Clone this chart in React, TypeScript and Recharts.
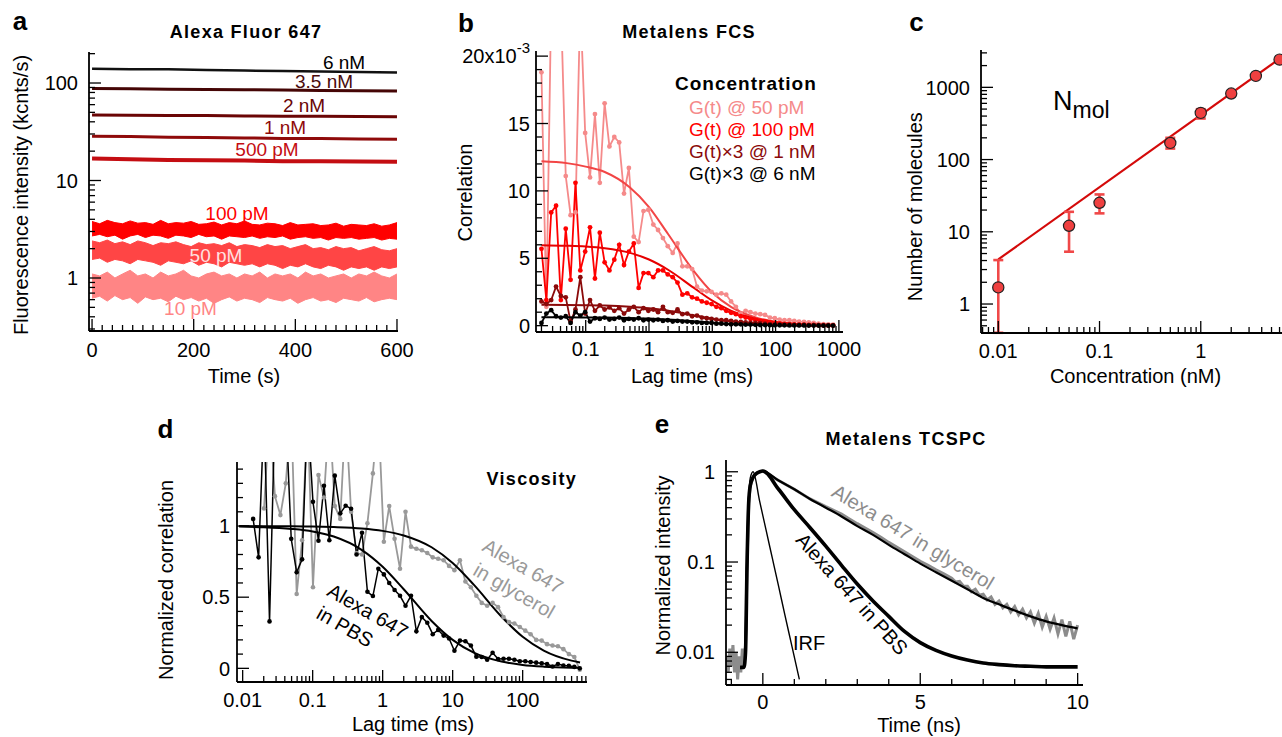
import React from 'react';
import { ComposedChart, Line, Area, Scatter, XAxis, YAxis, ErrorBar } from 'recharts';

const FONT = "'Liberation Sans', Arial, Helvetica, sans-serif";

// ---------------- Panel a : intensity traces ----------------
const tA = [0,15,30,45,60,75,90,105,120,135,150,165,180,195,210,225,240,255,270,285,300,315,330,345,360,375,390,405,420,435,450,465,480,495,510,525,540,555,570,585,600];
const hi100 = [3.8,3.6,3.9,3.7,3.6,3.85,3.65,3.7,3.55,3.9,3.6,3.7,3.65,3.8,3.55,3.6,3.75,3.5,3.7,3.6,3.85,3.55,3.5,3.65,3.6,3.45,3.7,3.5,3.55,3.6,3.45,3.5,3.65,3.4,3.55,3.5,3.45,3.6,3.4,3.5,3.7];
const lo100 = [2.7,2.8,2.65,2.75,2.5,2.7,2.8,2.6,2.75,2.7,2.55,2.75,2.7,2.6,2.8,2.65,2.7,2.5,2.7,2.65,2.6,2.7,2.55,2.65,2.6,2.7,2.5,2.6,2.65,2.55,2.6,2.45,2.6,2.55,2.6,2.5,2.55,2.6,2.45,2.55,2.5];
const hi50 = [2.4,2.3,2.45,2.25,2.35,2.2,2.4,2.3,2.15,2.3,2.25,2.35,2.2,2.1,2.3,2.2,2.25,2.15,2.3,2.1,2.2,2.15,2.05,2.2,2.1,2.15,2.0,2.1,2.2,2.0,2.05,1.95,2.1,2.0,2.05,1.9,2.0,2.1,1.95,1.9,2.0];
const lo50 = [1.55,1.6,1.45,1.55,1.5,1.4,1.55,1.5,1.45,1.35,1.5,1.45,1.4,1.5,1.35,1.45,1.4,1.3,1.45,1.4,1.35,1.4,1.3,1.4,1.35,1.25,1.35,1.3,1.4,1.3,1.25,1.35,1.3,1.2,1.3,1.25,1.3,1.2,1.3,1.25,1.3];
const hi10 = [1.1,1.05,1.15,1.0,1.1,1.2,1.05,1.1,1.0,1.15,1.05,1.1,1.2,1.05,1.0,1.1,1.15,1.05,1.1,1.0,1.1,1.05,1.15,1.0,1.1,1.05,1.1,1.0,1.15,1.05,1.1,1.0,1.05,1.1,1.0,1.1,1.05,1.15,1.05,1.0,1.1];
const lo10 = [0.62,0.65,0.58,0.66,0.6,0.63,0.55,0.64,0.6,0.62,0.57,0.65,0.6,0.63,0.58,0.62,0.55,0.6,0.64,0.58,0.62,0.6,0.56,0.63,0.6,0.58,0.62,0.55,0.6,0.63,0.58,0.6,0.56,0.62,0.6,0.58,0.63,0.57,0.6,0.62,0.6];
const tThin = [0,75,150,225,300,375,450,525,600];
const a6n = [140,138,138,136,134,133,131,130,128];
const a35n = [88,87.5,86.5,86,85.5,85,84,83.5,83];
const a2n = [47,46.8,46.4,46.3,46,45.7,45.5,45.3,45];
const a1n = [28.5,28.2,27.8,27.6,27.3,27,26.9,26.6,26.5];
const a500p = [16.8,16.5,16.2,16.1,16.0,15.8,15.8,15.7,15.6];
const aXTicks = [0,20,40,60,80,100,120,140,160,180,200,220,240,260,280,300,320,340,360,380,400,420,440,460,480,500,520,540,560,580,600];
const aXMajor = [0,200,400,600];
const aXLabels = ['0','200','400','600'];
const aYTicks = [0.3,0.4,0.5,0.6,0.7,0.8,0.9,1,2,3,4,5,6,7,8,9,10,20,30,40,50,60,70,80,90,100,200];
const aYMajor = [1,10,100];
const aYLabels = ['1','10','100'];

// ---------------- Panel b : FCS ----------------
const lagB = [0.0200,0.0239,0.0285,0.0340,0.0405,0.0484,0.0577,0.0689,0.0822,0.0981,
  0.117,0.140,0.167,0.199,0.237,0.283,0.338,0.403,0.481,0.575,
  0.686,0.818,0.977,1.17,1.39,1.66,1.98,2.37,2.82,3.37,
  4.02,4.80,5.73,6.84,8.16,9.74,11.6,13.9,16.6,19.8,
  23.6,28.2,33.6,40.1,47.9,57.1,68.2,81.4,97.1,116,
  138,165,197,235,281,335,400,477,570,680,810];
const g50 = [18.8,1.4,24,24,24,11.1,8.2,8.4,24,14.3,
  11.0,15.7,10.6,16.5,13.3,14.0,13.6,9.8,11.7,6.6,
  6.2,8.5,8.6,7.5,7.1,6.5,5.9,5.4,6.1,4.4,
  4.4,4.2,2.9,2.6,2.55,2.5,2.3,2.4,2.3,1.8,
  1.4,0.9,1.1,1.0,0.9,0.85,0.8,0.6,0.55,0.45,
  0.4,0.4,0.35,0.3,0.28,0.25,0.2,0.15,0.12,0.1,0.08];
const g100 = [5.7,1.9,8.4,8.9,1.9,7.2,3.4,10.6,4.1,5.5,
  7.3,3.5,6.9,4.7,4.1,4.9,6.0,4.5,5.5,6.1,
  2.8,3.9,3.9,3.6,4.1,4.1,3.8,3.6,3.2,2.3,
  2.4,2.1,2.0,1.8,1.7,1.6,1.4,1.3,1.1,0.95,
  0.85,0.7,0.6,0.5,0.42,0.35,0.3,0.25,0.2,0.17,
  0.14,0.12,0.1,0.08,0.07,0.05,0.05,0.04,0.03,0.02,0.02];
const g1n = [1.8,1.6,1.9,2.9,2.2,2.1,0.3,1.2,3.6,0.9,
  1.9,1.1,1.5,1.2,1.35,1.1,1.3,0.9,1.2,1.4,
  1.0,1.3,1.1,1.2,1.0,1.4,1.0,0.95,1.2,0.85,
  0.9,0.7,0.75,0.6,0.55,0.5,0.45,0.4,0.4,0.35,
  0.3,0.28,0.25,0.2,0.2,0.18,0.15,0.12,0.1,0.1,
  0.08,0.07,0.06,0.05,0.05,0.04,0.03,0.03,0.02,0.02,0.02];
const g6n = [0.2,0.9,1.15,0.7,0.6,0.7,0.2,1.0,0.75,1.0,
  0.3,0.55,0.5,0.6,0.45,0.5,0.6,0.4,0.5,0.45,
  0.55,0.4,0.45,0.4,0.45,0.35,0.4,0.3,0.35,0.3,
  0.3,0.25,0.25,0.2,0.2,0.2,0.15,0.15,0.12,0.1,
  0.1,0.1,0.08,0.08,0.06,0.05,0.05,0.04,0.04,0.03,
  0.03,0.02,0.02,0.02,0.02,0.01,0.01,0.01,0.01,0.01,0.01];
const lagFitB = [0.02,0.05,0.1,0.2,0.5,1,2,5,10,20,50,100,200,500,800];
const fit50 = [12.2,12.06,11.8,11.4,10.25,8.8,6.8,4.1,2.46,1.37,0.59,0.30,0.15,0.06,0.04];
const fit100 = [5.97,5.93,5.87,5.74,5.4,4.91,4.15,2.84,1.86,1.10,0.50,0.26,0.13,0.05,0.03];
const fit1n = [1.55,1.54,1.52,1.49,1.40,1.29,1.11,0.78,0.52,0.31,0.14,0.07,0.04,0.015,0.01];
const fit6n = [0.62,0.62,0.61,0.6,0.57,0.53,0.46,0.33,0.22,0.13,0.06,0.03,0.015,0.01,0.01];
const bXTicks = [0.02,0.03,0.04,0.05,0.06,0.07,0.08,0.09,0.1,0.2,0.3,0.4,0.5,0.6,0.7,0.8,0.9,1,2,3,4,5,6,7,8,9,10,20,30,40,50,60,70,80,90,100,200,300,400,500,600,700,800,900,1000];
const bXMajor = [0.1,1,10,100,1000];
const bXLabels = ['0.1','1','10','100','1000'];
const bYTicks = [0,1,2,3,4,5,6,7,8,9,10,11,12,13,14,15,16,17,18,19,20];
const bYMajor = [0,5,10,15,20];
const bYLabels = ['0','5','10','15','20x10^-3'];

// ---------------- Panel c : number of molecules ----------------
const concC = [0.01,0.05,0.1,0.5,1,2,3.5,6];
const nmolC = [1.7,12.1,25.2,170,443,820,1440,2420];
const errLoC = [1.3,6.8,7.2,28,73,20,35,60];
const errHiC = [2.36,6.8,7.7,30,55,20,35,60];
const fitConcC = [0.01,10];
const fitNmolC = [4.15,4150];
const cXTicks = [0.007,0.008,0.009,0.01,0.02,0.03,0.04,0.05,0.06,0.07,0.08,0.09,0.1,0.2,0.3,0.4,0.5,0.6,0.7,0.8,0.9,1,2,3,4,5,6,7,8,9];
const cXMajor = [0.01,0.1,1];
const cXLabels = ['0.01','0.1','1'];
const cYTicks = [0.4,0.5,0.6,0.7,0.8,0.9,1,2,3,4,5,6,7,8,9,10,20,30,40,50,60,70,80,90,100,200,300,400,500,600,700,800,900,1000,2000,3000];
const cYMajor = [1,10,100,1000];
const cYLabels = ['1','10','100','1000'];

// ---------------- Panel d : viscosity ----------------
const lagD = [0.0141,0.0169,0.0202,0.0242,0.0289,0.0346,0.0413,0.0494,0.0591,0.0707,
  0.0845,0.101,0.121,0.145,0.173,0.207,0.248,0.296,0.354,0.424,
  0.507,0.606,0.725,0.867,1.04,1.24,1.48,1.77,2.12,2.54,
  3.03,3.63,4.34,5.19,6.21,7.43,8.88,10.6,12.7,15.2,
  18.2,21.8,26.0,31.1,37.2,44.5,53.3,63.7,76.2,91.1,
  109,130,156,187,223,267,319,382,457,547,654];
const gPBS = [1.05,0.78,1.8,0.33,1.8,1.8,1.8,0.91,0.675,0.766,
  1.8,1.17,0.897,1.283,0.90,1.354,1.089,1.143,1.122,0.80,
  0.953,0.538,0.508,0.70,0.66,0.6,0.55,0.51,0.44,0.51,
  0.26,0.36,0.32,0.24,0.27,0.23,0.21,0.124,0.195,0.19,
  0.16,0.082,0.08,0.06,0.11,0.065,0.067,0.067,0.06,0.05,
  0.05,0.045,0.04,0.035,0.03,0.013,0.03,0.02,0.018,0.01,0.0];
const gGly = [null,null,1.124,1.8,1.21,1.077,1.3,1.8,0.522,0.90,
  1.8,0.57,1.358,1.2,1.8,1.14,1.05,1.8,1.1,0.81,
  0.80,1.02,1.37,1.8,0.89,1.14,0.91,0.70,1.1,0.855,
  0.84,0.83,0.81,0.78,0.77,0.76,0.72,0.69,0.76,0.61,
  0.57,0.51,0.46,0.44,0.46,0.43,0.36,0.325,0.315,0.29,
  0.265,0.24,0.20,0.195,0.17,0.16,0.155,0.135,0.10,0.08,-0.01];
const lagFitD = [0.0089,0.02,0.05,0.1,0.2,0.5,1,2,5,10,20,50,100,200,500,660];
const fitPBS = [0.996,0.992,0.980,0.962,0.926,0.833,0.714,0.556,0.333,0.200,0.111,0.048,0.024,0.012,0.005,0.004];
const fitGly = [1.0,0.999,0.998,0.997,0.993,0.983,0.966,0.934,0.851,0.740,0.588,0.363,0.222,0.125,0.054,0.041];
const dXTicks = [0.01,0.02,0.03,0.04,0.05,0.06,0.07,0.08,0.09,0.1,0.2,0.3,0.4,0.5,0.6,0.7,0.8,0.9,1,2,3,4,5,6,7,8,9,10,20,30,40,50,60,70,80,90,100,200,300,400,500,600,700,800];
const dXMajor = [0.01,0.1,1,10,100];
const dXLabels = ['0.01','0.1','1','10','100'];
const dYTicks = [0,0.1,0.2,0.3,0.4,0.5,0.6,0.7,0.8,0.9,1,1.1,1.2,1.3,1.4];
const dYMajor = [0,0.5,1];
const dYLabels = ['0','0.5','1'];

// ---------------- Panel e : TCSPC ----------------
const tIrf = [-0.72,-0.6,-0.55,-0.5,-0.45,-0.4,-0.31,-0.1,0.1,0.3,0.5,0.7,0.9,1.16];
const irf = [0.0066,0.0068,0.02,0.15,0.5,0.85,1.0,0.47,0.228,0.111,0.054,0.026,0.0127,0.005];
const tFitE = [-0.72,-0.6,-0.55,-0.5,-0.45,-0.4,-0.3,-0.2,-0.1,0,0.5,1,1.5,2,2.5,3,3.5,4,4.5,5,5.5,6,6.5,7,7.5,8,8.5,9,9.5,10];
const pbsE = [0.0068,0.0068,0.01,0.1,0.45,0.7,0.88,0.96,1.0,1.02,0.64,0.38,0.24,0.15,0.092,0.057,0.037,0.025,0.017,0.0128,0.0105,0.0091,0.0082,0.0076,0.0073,0.0071,0.007,0.0069,0.0069,0.0069];
const glyFitE = [0.0068,0.0068,0.01,0.1,0.45,0.7,0.88,0.96,1.0,1.02,0.8,0.64,0.5,0.4,0.32,0.25,0.2,0.155,0.122,0.096,0.077,0.062,0.05,0.04,0.034,0.029,0.025,0.022,0.02,0.0184];
const tGly = [-1.15,-1.1,-1.05,-1.0,-0.95,-0.9,-0.85,-0.8,-0.75,-0.7,-0.65,-0.6,-0.55,-0.5,-0.45,-0.4,-0.3,-0.2,-0.1,0,
  0.5,1,1.5,2,
  2.5,2.75,3,3.25,3.5,3.75,4,4.25,4.5,4.75,5,5.25,5.5,5.75,
  6,6.125,6.25,6.375,6.5,6.625,6.75,6.875,7,7.125,7.25,7.375,7.5,7.625,7.75,7.875,8,8.125,8.25,8.375,8.5,8.625,8.75,8.875,9,9.125,9.25,9.375,9.5,9.625,9.75,9.875,10];
const glyE = [0.009,0.006,0.011,0.007,0.012,0.006,0.01,0.005,0.009,0.006,0.011,0.007,0.012,0.1,0.45,0.7,0.88,0.96,1.0,1.02,
  0.8,0.64,0.5,0.41,
  0.34,0.3,0.266,0.238,0.212,0.188,0.165,0.147,0.13,0.115,0.102,0.092,0.082,0.074,
  0.066,0.06,0.061,0.054,0.054,0.047,0.05,0.043,0.044,0.038,0.041,0.034,0.037,0.031,0.034,0.028,0.032,0.026,0.03,0.024,0.028,0.021,0.027,0.019,0.025,0.018,0.024,0.016,0.023,0.015,0.022,0.014,0.02];
const eXTicks = [-1,0,1,2,3,4,5,6,7,8,9,10];
const eXMajor = [0,5,10];
const eXLabels = ['0','5','10'];
const eYTicks = [0.005,0.006,0.007,0.008,0.009,0.01,0.02,0.03,0.04,0.05,0.06,0.07,0.08,0.09,0.1,0.2,0.3,0.4,0.5,0.6,0.7,0.8,0.9,1];
const eYMajor = [0.01,0.1,1];
const eYLabels = ['0.01','0.1','1'];

// ---------------- derived tables ----------------
const bandA = tA.map((t, i) => ({ t, r100: [lo100[i], hi100[i]], r50: [lo50[i], hi50[i]], r10: [lo10[i], hi10[i]] }));
const thinA = tThin.map((t, i) => ({ t, n6: a6n[i], n35: a35n[i], n2: a2n[i], n1: a1n[i], p500: a500p[i] }));
const dataB = lagB.map((x, i) => ({ x, g50: g50[i], g100: g100[i], g1n: g1n[i], g6n: g6n[i] }));
const fitB = lagFitB.map((x, i) => ({ x, f50: fit50[i], f100: fit100[i], f1n: fit1n[i], f6n: fit6n[i] }));
const dataC = concC.map((x, i) => ({ x, y: nmolC[i], err: [errLoC[i], errHiC[i]] }));
const fitC = fitConcC.map((x, i) => ({ x, y: fitNmolC[i] }));
const dataD = lagD.map((x, i) => ({ x, pbs: gPBS[i], gly: gGly[i] }));
const fitD = lagFitD.map((x, i) => ({ x, pbs: fitPBS[i], gly: fitGly[i] }));
const irfE = tIrf.map((x, i) => ({ x, y: irf[i] }));
const fitE = tFitE.map((x, i) => ({ x, pbs: pbsE[i], gly: glyFitE[i] }));
const glyDataE = tGly.map((x, i) => ({ x, y: glyE[i] }));

// ---------------- tick helpers ----------------
const AXL = { stroke: '#000', strokeWidth: 1.8 };

function sameVal(a: number, b: number) {
  return Math.abs(a - b) <= Math.abs(a) * 1e-6 + 1e-9;
}

function leftTick(majors: number[], labels: string[], gap: number) {
  return (p: any) => {
    const v = Number(p?.payload?.value);
    const idx = majors.findIndex((m) => sameVal(m, v));
    const major = idx >= 0;
    const len = major ? 12 : 6;
    const x = Number(p.x);
    const y = Number(p.y);
    const lab = major ? labels[idx] : '';
    const parts = lab.split('^');
    return (
      <g>
        <line x1={x} y1={y} x2={x + len} y2={y} stroke="#000" strokeWidth={1.3} />
        {major && (
          <text x={x - gap} y={y} dy="0.36em" textAnchor="end" fontSize={20} fontFamily={FONT} fill="#000">
            {parts[0]}
            {parts[1] ? <tspan dy="-0.7em" fontSize={15}>{parts[1]}</tspan> : null}
          </text>
        )}
      </g>
    );
  };
}

function bottomTick(majors: number[], labels: string[], gap: number) {
  return (p: any) => {
    const v = Number(p?.payload?.value);
    const idx = majors.findIndex((m) => sameVal(m, v));
    const major = idx >= 0;
    const len = major ? 12 : 6;
    const x = Number(p.x);
    const y = Number(p.y);
    return (
      <g>
        <line x1={x} y1={y} x2={x} y2={y - len} stroke="#000" strokeWidth={1.3} />
        {major && (
          <text x={x} y={y + gap} textAnchor="middle" fontSize={20} fontFamily={FONT} fill="#000">
            {labels[idx]}
          </text>
        )}
      </g>
    );
  };
}

const frameTop = (
  <XAxis key="ftop" xAxisId="top" orientation="top" type="number" domain={[0, 1]} height={0} tick={false} tickLine={false} axisLine={AXL} />
);
const frameRight = (
  <YAxis key="fright" yAxisId="right" orientation="right" type="number" domain={[0, 1]} width={0} tick={false} tickLine={false} axisLine={AXL} />
);

const pos = (left: number, top: number): React.CSSProperties => ({ position: 'absolute', left, top });

function PanelA() {
  return (
    <div style={pos(9, 32)}>
      <ComposedChart width={419} height={344} margin={{ top: 20, right: 30, bottom: 0, left: 0 }}>
        <XAxis xAxisId={0} type="number" dataKey="t" domain={[-6, 602]} allowDataOverflow ticks={aXTicks} interval={0}
          tickSize={0} tickMargin={0} tickLine={false} tick={bottomTick(aXMajor, aXLabels, 26)} axisLine={AXL} height={45} />
        <YAxis yAxisId={0} type="number" scale="log" domain={[0.286, 208]} allowDataOverflow ticks={aYTicks} interval={0}
          tickSize={0} tickMargin={0} tickLine={false} tick={leftTick(aYMajor, aYLabels, 11)} axisLine={AXL} width={80} />
        {frameTop}
        {frameRight}
        <Area data={bandA} dataKey="r10" type="linear" stroke="#ff8585" strokeWidth={1} fill="#ff8585" fillOpacity={1} isAnimationActive={false} dot={false} activeDot={false} />
        <Area data={bandA} dataKey="r50" type="linear" stroke="#ff4545" strokeWidth={1} fill="#ff4545" fillOpacity={1} isAnimationActive={false} dot={false} activeDot={false} />
        <Area data={bandA} dataKey="r100" type="linear" stroke="#ff0000" strokeWidth={1} fill="#ff0000" fillOpacity={1} isAnimationActive={false} dot={false} activeDot={false} />
        <Line data={thinA} dataKey="p500" type="linear" stroke="#c40d12" strokeWidth={4} dot={false} isAnimationActive={false} />
        <Line data={thinA} dataKey="n1" type="linear" stroke="#8f0a0a" strokeWidth={3} dot={false} isAnimationActive={false} />
        <Line data={thinA} dataKey="n2" type="linear" stroke="#6a0505" strokeWidth={3} dot={false} isAnimationActive={false} />
        <Line data={thinA} dataKey="n35" type="linear" stroke="#450505" strokeWidth={3} dot={false} isAnimationActive={false} />
        <Line data={thinA} dataKey="n6" type="linear" stroke="#111111" strokeWidth={2.5} dot={false} isAnimationActive={false} />
      </ComposedChart>
    </div>
  );
}

function PanelB() {
  const dot = (c: string) => ({ r: 2.4, fill: c, stroke: c, strokeWidth: 0 });
  return (
    <div style={pos(456, 26)}>
      <ComposedChart width={417} height={351} margin={{ top: 25, right: 30, bottom: 0, left: 0 }}>
        <XAxis xAxisId={0} type="number" dataKey="x" scale="log" domain={[0.0164, 1161]} allowDataOverflow ticks={bXTicks} interval={0}
          tickSize={0} tickMargin={0} tickLine={false} tick={bottomTick(bXMajor, bXLabels, 24)} axisLine={AXL} height={45} />
        <YAxis yAxisId={0} type="number" domain={[-0.47, 20.38]} allowDataOverflow ticks={bYTicks} interval={0}
          tickSize={0} tickMargin={0} tickLine={false} tick={leftTick(bYMajor, bYLabels, 6)} axisLine={AXL} width={80} />
        {frameTop}
        {frameRight}
        <Line data={dataB} dataKey="g50" type="linear" stroke="#f58a8a" strokeWidth={1.8} dot={dot('#f58a8a')} isAnimationActive={false} />
        <Line data={fitB} dataKey="f50" type="monotone" stroke="#f24545" strokeWidth={2} dot={false} isAnimationActive={false} />
        <Line data={dataB} dataKey="g100" type="linear" stroke="#ff0000" strokeWidth={1.8} dot={dot('#ff0000')} isAnimationActive={false} />
        <Line data={fitB} dataKey="f100" type="monotone" stroke="#e60000" strokeWidth={2} dot={false} isAnimationActive={false} />
        <Line data={dataB} dataKey="g1n" type="linear" stroke="#8b0a0a" strokeWidth={1.8} dot={dot('#8b0a0a')} isAnimationActive={false} />
        <Line data={fitB} dataKey="f1n" type="monotone" stroke="#8b0a0a" strokeWidth={2} dot={false} isAnimationActive={false} />
        <Line data={dataB} dataKey="g6n" type="linear" stroke="#000000" strokeWidth={1.8} dot={dot('#000000')} isAnimationActive={false} />
        <Line data={fitB} dataKey="f6n" type="monotone" stroke="#000000" strokeWidth={2} dot={false} isAnimationActive={false} />
      </ComposedChart>
    </div>
  );
}

function PanelC() {
  const marker = (p: any) => <circle cx={p.cx} cy={p.cy} r={5.6} fill="#ef4040" stroke="#222" strokeWidth={1.2} />;
  return (
    <div style={pos(901, 40)}>
      <ComposedChart width={401} height={338} margin={{ top: 10, right: 0, bottom: 0, left: 0 }}>
        <XAxis xAxisId={0} type="number" dataKey="x" scale="log" domain={[0.00675, 10]} allowDataOverflow ticks={cXTicks} interval={0}
          tickSize={0} tickMargin={0} tickLine={false} tick={bottomTick(cXMajor, cXLabels, 25)} axisLine={AXL} height={45} />
        <YAxis yAxisId={0} type="number" scale="log" domain={[0.397, 3288]} allowDataOverflow ticks={cYTicks} interval={0}
          tickSize={0} tickMargin={0} tickLine={false} tick={leftTick(cYMajor, cYLabels, 11)} axisLine={AXL} width={80} />
        {frameTop}
        {frameRight}
        <Line data={fitC} dataKey="y" type="linear" stroke="#d40a0a" strokeWidth={2.2} dot={false} isAnimationActive={false} />
        <Scatter data={dataC} dataKey="y" shape={marker} isAnimationActive={false}>
          <ErrorBar dataKey="err" direction="y" stroke="#f04848" strokeWidth={2.6} width={5} isAnimationActive={false} />
        </Scatter>
      </ComposedChart>
    </div>
  );
}

function PanelD() {
  return (
    <div style={pos(157, 452)}>
      <ComposedChart width={440} height={275} margin={{ top: 10, right: 10, bottom: 0, left: 0 }}>
        <XAxis xAxisId={0} type="number" dataKey="x" scale="log" domain={[0.0083, 830]} allowDataOverflow ticks={dXTicks} interval={0}
          tickSize={0} tickMargin={0} tickLine={false} tick={bottomTick(dXMajor, dXLabels, 25)} axisLine={AXL} height={45} />
        <YAxis yAxisId={0} type="number" domain={[-0.096, 1.45]} allowDataOverflow ticks={dYTicks} interval={0}
          tickSize={0} tickMargin={0} tickLine={false} tick={leftTick(dYMajor, dYLabels, 7)} axisLine={AXL} width={80} />
        {frameTop}
        {frameRight}
        <Line data={dataD} dataKey="gly" type="linear" stroke="#999999" strokeWidth={1.8} dot={{ r: 2.3, fill: '#999999', stroke: '#999999', strokeWidth: 0 }} isAnimationActive={false} />
        <Line data={dataD} dataKey="pbs" type="linear" stroke="#000000" strokeWidth={1.5} dot={{ r: 2.3, fill: '#000', stroke: '#000', strokeWidth: 0 }} isAnimationActive={false} />
        <Line data={fitD} dataKey="gly" type="monotone" stroke="#000000" strokeWidth={2} dot={false} isAnimationActive={false} />
        <Line data={fitD} dataKey="pbs" type="monotone" stroke="#000000" strokeWidth={2} dot={false} isAnimationActive={false} />
      </ComposedChart>
    </div>
  );
}

function PanelE() {
  return (
    <div style={pos(646, 450)}>
      <ComposedChart width={457} height={280} margin={{ top: 10, right: 20, bottom: 0, left: 0 }}>
        <XAxis xAxisId={0} type="number" dataKey="x" domain={[-1.17, 10.17]} allowDataOverflow ticks={eXTicks} interval={0}
          tickSize={0} tickMargin={0} tickLine={false} tick={bottomTick(eXMajor, eXLabels, 24)} axisLine={AXL} height={45} />
        <YAxis yAxisId={0} type="number" scale="log" domain={[0.00434, 1.35]} allowDataOverflow ticks={eYTicks} interval={0}
          tickSize={0} tickMargin={0} tickLine={false} tick={leftTick(eYMajor, eYLabels, 11)} axisLine={AXL} width={80} />
        {frameTop}
        {frameRight}
        <Line data={glyDataE} dataKey="y" type="linear" stroke="#8c8c8c" strokeWidth={3} dot={false} isAnimationActive={false} />
        <Line data={fitE} dataKey="gly" type="monotone" stroke="#000000" strokeWidth={2.2} dot={false} isAnimationActive={false} />
        <Line data={fitE} dataKey="pbs" type="monotone" stroke="#000000" strokeWidth={3.6} dot={false} isAnimationActive={false} />
        <Line data={irfE} dataKey="y" type="monotone" stroke="#000000" strokeWidth={1.4} dot={false} isAnimationActive={false} />
      </ComposedChart>
    </div>
  );
}

function Overlay() {
  const bold = { fontWeight: 700, fontSize: 18, letterSpacing: 1.3 } as const;
  return (
    <svg width={1282} height={737} style={{ position: 'absolute', left: 0, top: 0, pointerEvents: 'none' }} fontFamily={FONT}>
      {/* panel letters */}
      <text x={20} y={30} fontSize={26} fontWeight={700} textAnchor="middle">a</text>
      <text x={466} y={32} fontSize={26} fontWeight={700} textAnchor="middle">b</text>
      <text x={916.5} y={31} fontSize={26} fontWeight={700} textAnchor="middle">c</text>
      <text x={165.5} y={438} fontSize={26} fontWeight={700} textAnchor="middle">d</text>
      <text x={662} y={433} fontSize={26} fontWeight={700} textAnchor="middle">e</text>

      {/* titles */}
      <text x={246} y={38} textAnchor="middle" {...bold}>Alexa Fluor 647</text>
      <text x={689} y={38} textAnchor="middle" {...bold}>Metalens FCS</text>
      <text x={906} y={445} textAnchor="middle" {...bold}>Metalens TCSPC</text>

      {/* axis titles */}
      <text transform="translate(21,195) rotate(-90)" textAnchor="middle" dominantBaseline="central" fontSize={20}>Fluorescence intensity (kcnts/s)</text>
      <text x={244} y={383} textAnchor="middle" fontSize={20}>Time (s)</text>
      <text transform="translate(465,192.5) rotate(-90)" textAnchor="middle" dominantBaseline="central" fontSize={20}>Correlation</text>
      <text x={692} y={383} textAnchor="middle" fontSize={20}>Lag time (ms)</text>
      <text transform="translate(914.5,206.7) rotate(-90)" textAnchor="middle" dominantBaseline="central" fontSize={20}>Number of molecules</text>
      <text x={1135.5} y={383} textAnchor="middle" fontSize={20}>Concentration (nM)</text>
      <text transform="translate(165.5,580) rotate(-90)" textAnchor="middle" dominantBaseline="central" fontSize={20}>Normalized correlation</text>
      <text x={413} y={731} textAnchor="middle" fontSize={20}>Lag time (ms)</text>
      <text transform="translate(663,565.5) rotate(-90)" textAnchor="middle" dominantBaseline="central" fontSize={20}>Normalized intensity</text>
      <text x={919} y={732} textAnchor="middle" fontSize={20}>Time (ns)</text>

      {/* panel a labels */}
      <text x={344} y={69} textAnchor="middle" fontSize={19} fill="#000">6 nM</text>
      <text x={324} y={88} textAnchor="middle" fontSize={19} fill="#4a0a0a">3.5 nM</text>
      <text x={304} y={111.5} textAnchor="middle" fontSize={19} fill="#6a0505">2 nM</text>
      <text x={285} y={134} textAnchor="middle" fontSize={19} fill="#8f0a0a">1 nM</text>
      <text x={267} y={156} textAnchor="middle" fontSize={19} fill="#c40d12">500 pM</text>
      <text x={237} y={220} textAnchor="middle" fontSize={19} fill="#ff0000">100 pM</text>
      <text x={216} y={262} textAnchor="middle" fontSize={19} fill="#ffe0e0">50 pM</text>
      <text x={190.5} y={315} textAnchor="middle" fontSize={19} fill="#ff8585">10 pM</text>

      {/* panel b legend */}
      <text x={675} y={90} {...bold} fontSize={19} letterSpacing={1}>Concentration</text>
      <text x={689} y={114} fontSize={19} fill="#f58a8a">G(t) @ 50 pM</text>
      <text x={689} y={136} fontSize={19} fill="#ff0000">G(t) @ 100 pM</text>
      <text x={689} y={158} fontSize={19} fill="#8b0a0a">G(t)×3 @ 1 nM</text>
      <text x={689} y={180} fontSize={19} fill="#000">G(t)×3 @ 6 nM</text>

      {/* panel c */}
      <text x={1053} y={110} fontSize={27}>N<tspan fontSize={23} dy={8}>mol</tspan></text>

      {/* panel d */}
      <text x={577} y={485} textAnchor="end" {...bold}>Viscosity</text>
      <text transform="translate(518,578) rotate(30)" fontSize={20} fill="#999999">
        <tspan x={-46} y={-12.8} dominantBaseline="central">Alexa 647</tspan>
        <tspan x={-42} y={12.8} dominantBaseline="central">in glycerol</tspan>
      </text>
      <text transform="translate(356,618.5) rotate(30)" fontSize={20} fill="#000">
        <tspan x={-38} y={-12.5} dominantBaseline="central">Alexa 647</tspan>
        <tspan x={-36} y={12.5} dominantBaseline="central">in PBS</tspan>
      </text>

      {/* panel e */}
      <text transform="translate(913,537) rotate(31)" textAnchor="middle" dominantBaseline="central" fontSize={20} fill="#8c8c8c">Alexa 647 in glycerol</text>
      <text transform="translate(852,594) rotate(48)" textAnchor="middle" dominantBaseline="central" fontSize={20} fill="#000">Alexa 647 in PBS</text>
      <text x={809} y={650} textAnchor="middle" fontSize={20}>IRF</text>
    </svg>
  );
}

export default function App() {
  return (
    <div style={{ position: 'absolute', left: 0, top: 0, width: 1282, height: 737, overflow: 'hidden', background: '#fff', fontFamily: FONT }}>
      <PanelA />
      <PanelB />
      <PanelC />
      <PanelD />
      <PanelE />
      <Overlay />
    </div>
  );
}
